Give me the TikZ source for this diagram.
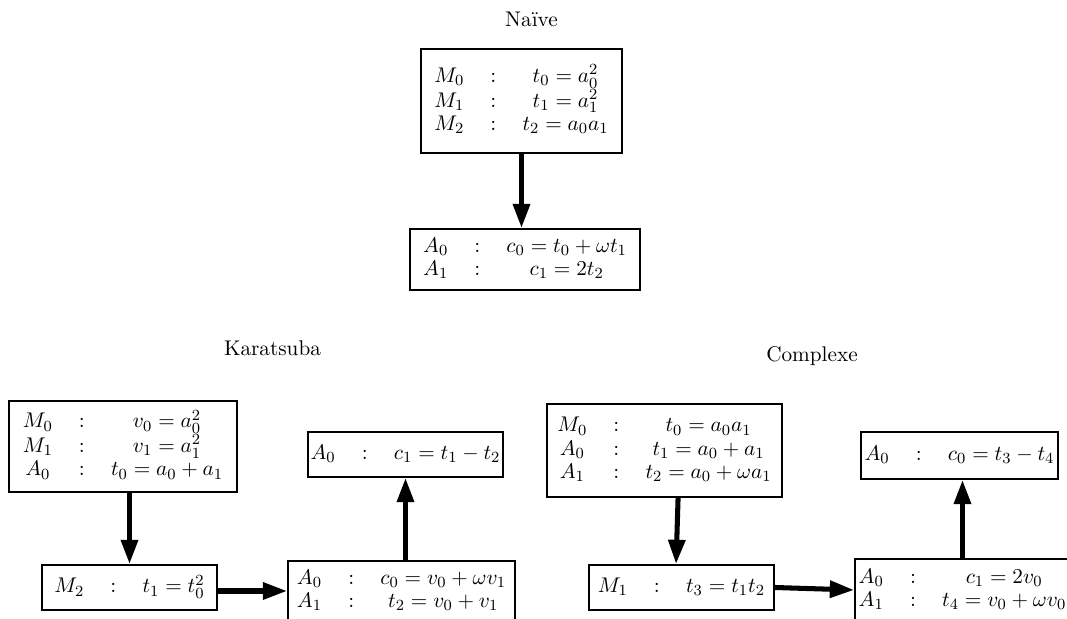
\documentclass[tikz,border=0pt]{standalone}
\usepackage{amsmath, amssymb}
\usepackage{tikz}
\usetikzlibrary{arrows.meta,positioning,calc}
\tikzstyle{box} = [draw,line width=1pt,rectangle,inner sep=0,fill=white,font=\fontsize{10.95}{12}\selectfont]
\tikzstyle{flow} = [line width=2.6pt,-{Triangle[width=8.5pt,length=12.5pt]}]
\tikzstyle{title} = [anchor=base,inner sep=0,font=\fontsize{10.95}{12}\selectfont]
\def \ops#1{$\begin{array}{@{}c@{\hspace{13.5pt}}c@{\hspace{13.5pt}}c@{}}#1\end{array}$}

\begin{document}
\begin{tikzpicture}[x=0.5155pt,y=-0.5155pt]
      \useasboundingbox (0,0) rectangle (1067,619);
      \clip (0,0) rectangle (1067,619);
      % titles
      \node[title] (tnaive) at (531.5,27) {Naïve};
      \node[title] (tkara) at (272.5,356) {Karatsuba};
      \node[title] (tcomp) at (812,362) {Complexe};
      % naive
      \node[box,minimum width=103.6pt,minimum height=53.6pt] (naiveM) at (521.5,101)
        {\ops{M_0 & : & t_0 = a_0^2\\ M_1 & : & t_1 = a_1^2\\ M_2 & : & t_2 = a_0a_1}};
      \node[box,minimum width=118.6pt,minimum height=31.4pt] (naiveA) at (525,259.5)
        {\ops{A_0 & : & c_0 = t_0 + \omega t_1\\ A_1 & : & c_1 = 2t_2}};
      % karatsuba
      \node[box,minimum width=117.5pt,minimum height=46.9pt] (karaM) at (123,446.5)
        {\ops{M_0 & : & v_0 = a_0^2\\ M_1 & : & v_1 = a_1^2\\ A_0 & : & t_0 = a_0 + a_1}};
      \node[box,minimum width=90.2pt,minimum height=23.2pt] (karaSq) at (129.5,587.5)
        {\ops{M_2 & : & t_1 = t_0^2}};
      \node[box,minimum width=117pt,minimum height=30.9pt] (karaA) at (401.5,591)
        {\ops{A_0 & : & c_0 = v_0 + \omega v_1\\ A_1 & : & t_2 = v_0 + v_1}};
      \node[box,minimum width=100.5pt,minimum height=23.2pt] (karaSub) at (405.5,454.5)
        {\ops{A_0 & : & c_1 = t_1 - t_2}};
      % complexe
      \node[box,minimum width=121.1pt,minimum height=47.9pt] (compM) at (664.5,450.5)
        {\ops{M_0 & : & t_0 = a_0a_1\\ A_0 & : & t_1 = a_0 + a_1\\ A_1 & : & t_2 = a_0 + \omega a_1}};
      \node[box,minimum width=95.4pt,minimum height=23.2pt] (compMul) at (681.5,587.5)
        {\ops{M_1 & : & t_3 = t_1t_2}};
      \node[box,minimum width=110.8pt,minimum height=32pt] (compA) at (962.5,590)
        {\ops{A_0 & : & c_1 = 2v_0\\ A_1 & : & t_4 = v_0 + \omega v_0}};
      \node[box,minimum width=101.5pt,minimum height=24.2pt] (compSub) at (959.5,455.5)
        {\ops{A_0 & : & c_0 = t_3 - t_4}};
      % arrows
      \draw[flow] (naiveM.south) -- (naiveM.south |- naiveA.north);
      \draw[flow] (karaM.south -| karaSq.north) -- (karaSq.north);
      \draw[flow] (karaSq.east |- karaA.west) -- (karaA.west);
      \draw[flow] (karaA.north -| karaSub.south) -- (karaSub.south);
      \draw[flow] ([xshift=7pt]compM.south) -- ([xshift=-2.8pt]compMul.north);
      \draw[flow] (compMul.east) -- (compA.west);
      \draw[flow] (compA.north) -- (compA.north |- compSub.south);
    \end{tikzpicture}
\end{document}
